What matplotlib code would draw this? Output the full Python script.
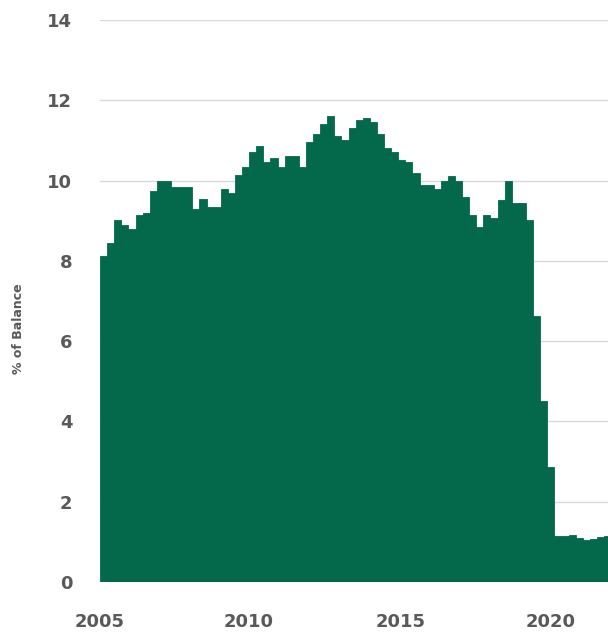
import numpy as np
import matplotlib.pyplot as plt

# quarterly share of balance, starting 2005 Q1
values = [8.13, 8.45, 9.03, 8.9, 8.8, 9.15, 9.2, 9.75, 9.98, 10.0,
          9.85, 9.85, 9.85, 9.28, 9.55, 9.33, 9.33, 9.8, 9.7, 10.15,
          10.35, 10.7, 10.85, 10.47, 10.57, 10.35, 10.62, 10.62, 10.35, 10.95,
          11.15, 11.4, 11.6, 11.1, 11.0, 11.3, 11.5, 11.57, 11.45, 11.15,
          10.82, 10.72, 10.52, 10.47, 10.2, 9.9, 9.9, 9.8, 9.98, 10.12,
          9.98, 9.6, 9.15, 8.85, 9.15, 9.07, 9.52, 9.98, 9.45, 9.45,
          9.03, 6.63, 4.52, 2.87, 1.15, 1.15, 1.18, 1.1, 1.05, 1.08,
          1.12, 1.15]
year_labels = ['2005', '2010', '2015', '2020']
year_pos = [-0.5, 20.5, 41.8, 63.0]

green = '#03694a'
grey = '#595959'

fig = plt.figure(figsize=(6.08, 6.39), dpi=100)
ax = fig.add_axes([0.1645, 0.0892, 0.8355, 0.8795])

x = np.arange(len(values))
ax.bar(x, values, width=1.0, color=green, edgecolor=green, linewidth=0.6, zorder=2)

ax.set_ylim(0, 14)
ax.set_xlim(-0.5, 71.05)
ax.set_yticks(np.arange(0, 15, 2))
ax.set_xticks(year_pos)
ax.set_xticklabels(year_labels)

ax.grid(axis='y', color='#d9d9d9', linewidth=1.0, zorder=0)
for s in ax.spines.values():
    s.set_visible(False)
ax.tick_params(length=0, labelsize=13, labelcolor=grey)
ax.tick_params(axis='y', pad=20)
ax.tick_params(axis='x', pad=22)
for lab in ax.get_xticklabels() + ax.get_yticklabels():
    lab.set_fontweight('bold')

fig.text(0.03, 0.485, '% of Balance', rotation=90, ha='center', va='center',
         fontsize=9, fontweight='bold', color=grey)

fig.savefig('out.png', dpi=100)
